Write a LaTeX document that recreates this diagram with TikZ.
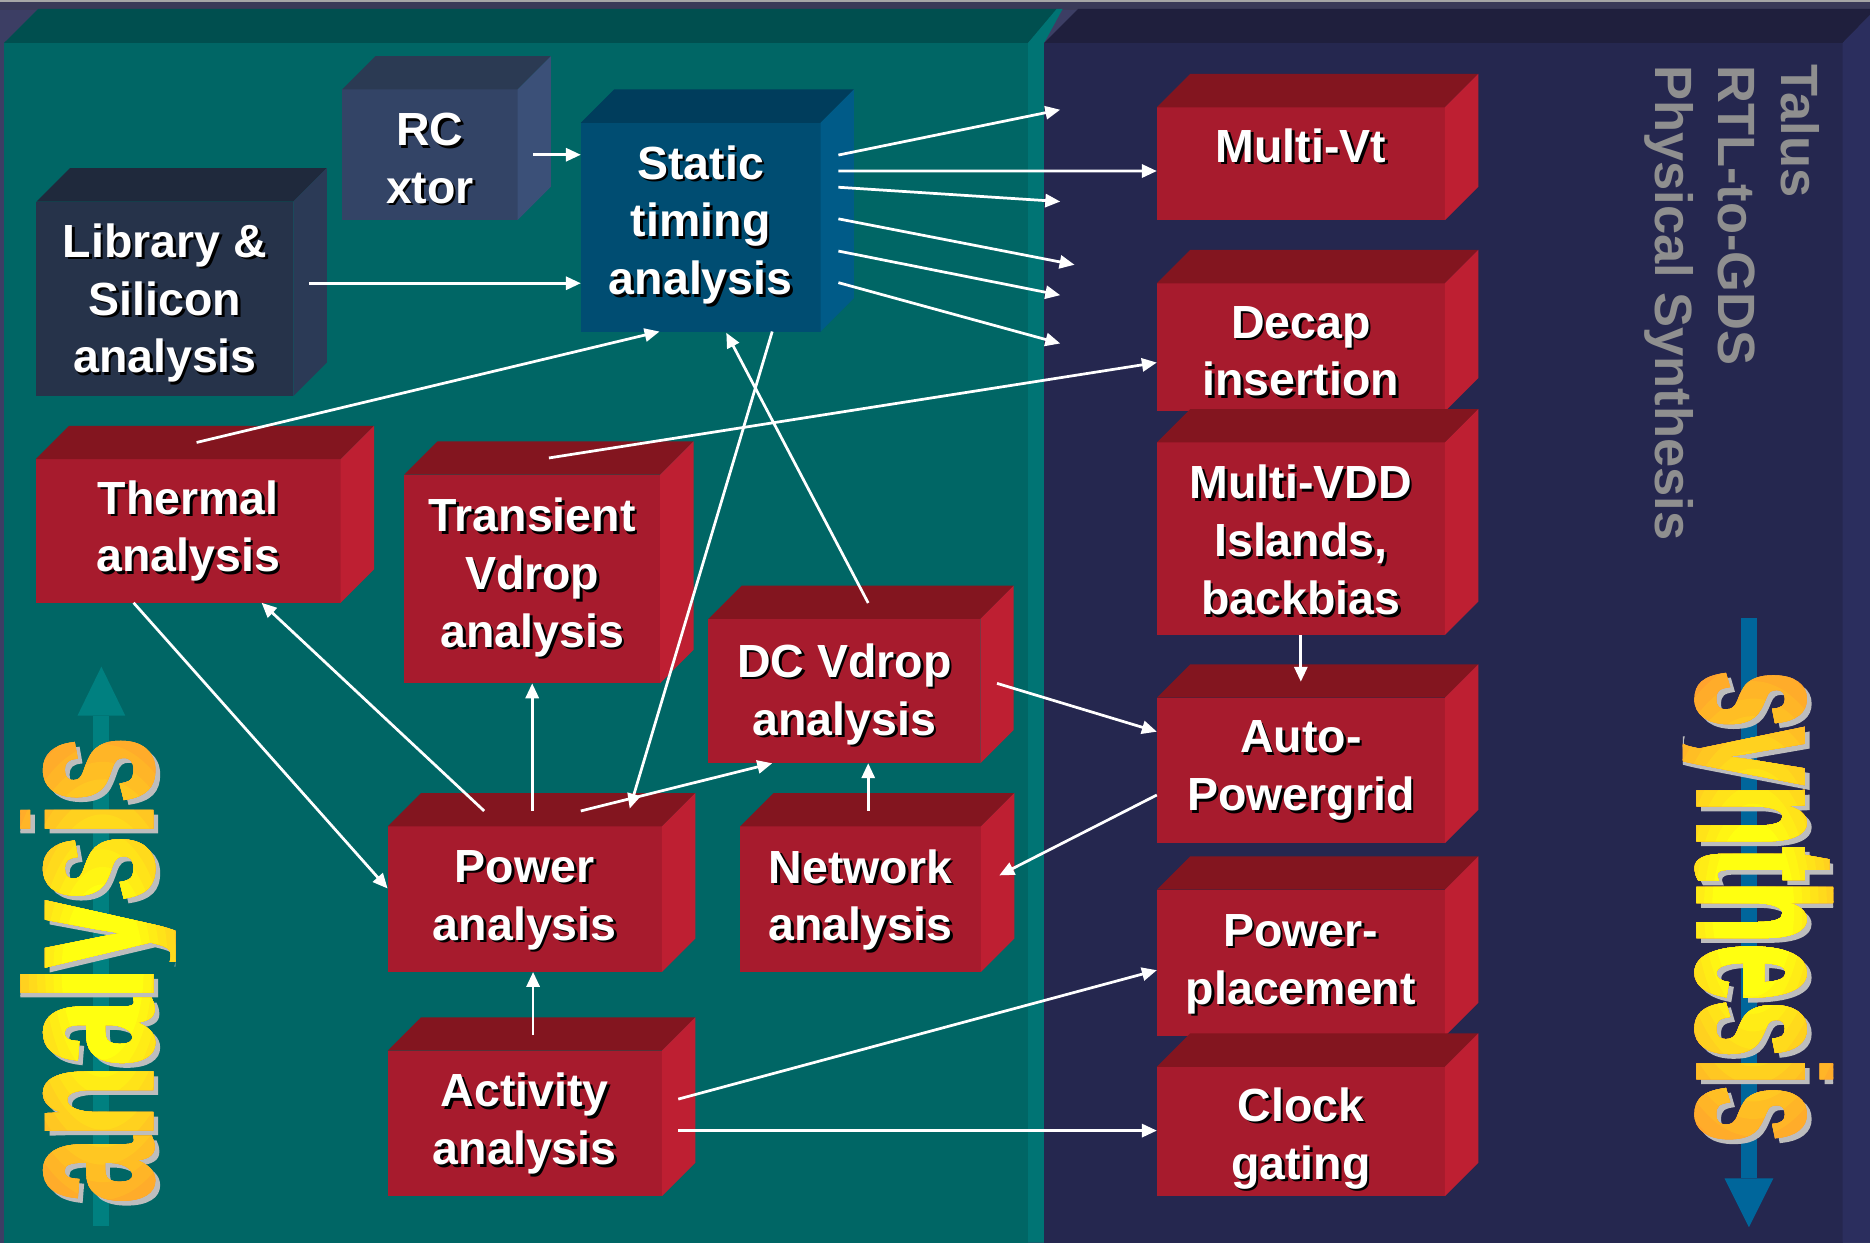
\documentclass[tikz,border=0pt]{standalone}
\usepackage{graphicx}
\usepackage{fontspec}
\setmainfont{Liberation Sans}
\newfontfamily\bigfont{Liberation Sans Bold}[FakeBold=2]
\usetikzlibrary{calc,arrows.meta}
\definecolor{bgC}{HTML}{3C3E64}
\definecolor{stripC}{HTML}{3A3A58}
\definecolor{tealF}{HTML}{006665}
\definecolor{tealT}{HTML}{004F4F}
\definecolor{tealS}{HTML}{007474}
\definecolor{navyF}{HTML}{25274F}
\definecolor{navyT}{HTML}{1F1F3D}
\definecolor{navyS}{HTML}{2B2E5E}
\definecolor{redF}{HTML}{A71B2D}
\definecolor{redT}{HTML}{83151F}
\definecolor{redS}{HTML}{BE1F32}
\definecolor{libF}{HTML}{26334A}
\definecolor{libT}{HTML}{1F293C}
\definecolor{libS}{HTML}{2B3A56}
\definecolor{rcF}{HTML}{334466}
\definecolor{rcT}{HTML}{2B3A53}
\definecolor{rcS}{HTML}{3B5078}
\definecolor{staF}{HTML}{004D72}
\definecolor{staT}{HTML}{003D5C}
\definecolor{staS}{HTML}{005B88}
\definecolor{arrTeal}{HTML}{008080}
\definecolor{arrBlue}{HTML}{00669B}
\definecolor{talusC}{HTML}{8F8F8F}
\definecolor{shGray}{HTML}{BDBDBD}
\definecolor{orangeC}{HTML}{FF9A30}
\definecolor{yellowC}{HTML}{FFFF10}
\newcommand\anaword{\bigfont\fontsize{100}{100}\selectfont\scalebox{0.99}[1.66]{analysis}}
\newcommand\synword{\bigfont\fontsize{100}{100}\selectfont\scalebox{0.858}[1.66]{synthesis}}
\newcommand\cube[7]{%
  \node[fill=#5F, minimum width=#3pt, minimum height=#4pt, inner sep=0pt, outer sep=0pt] (#1) at (#2) {};
  \fill[#5T] (#1.north west) -- ++(28,-28) -- ($(#1.north east)+(28,-28)$) -- (#1.north east) -- cycle;
  \fill[#5S] (#1.north east) -- ++(28,-28) -- ($(#1.south east)+(28,-28)$) -- (#1.south east) -- cycle;
  \node[boxtxtsh] (#1-sh) at ($(#1.center)+(2.2,#7+2.2)$) {#6};
  \node[boxtxt] (#1-tx) at ($(#1.center)+(0,#7)$) {#6};
}
\begin{document}
\begin{tikzpicture}[x=1pt,y=-1pt,
  boxtxt/.style={text=white, align=center, inner sep=0pt, font=\fontsize{39}{48.5}\selectfont\bfseries},
  boxtxtsh/.style={boxtxt, text=black},
  arr/.style={draw=white, line width=2.3pt, -{Triangle[length=12.5pt,width=11pt]}},
  talus/.style={rotate=-90, anchor=base west, inner sep=0pt, text=talusC, font=\fontsize{44}{53}\selectfont\bfseries},
  anast/.style={rotate=90, anchor=base west, inner sep=0pt},
  synst/.style={rotate=-90, anchor=base west, inner sep=0pt}]
\useasboundingbox (0,0) rectangle (1568,1042);
% background and panels
\fill[bgC] (0,0) rectangle (1568,1042);
\fill[stripC] (0,0) rectangle (1568,8);
\draw[line width=1.5pt, color=gray!70] (0,0.75) -- (1568,0.75);
\fill[tealT] (3.4,36) -- (32,7.5) -- (890,7.5) -- (862,36) -- cycle;
\fill[tealF] (3.4,36) rectangle (862,1042);
\fill[tealS] (862,1042) -- (862,36) -- (886,7.5) -- (891,7.5) -- (875.5,36) -- (875.5,1042) -- cycle;
\fill[navyT] (875.5,36) -- (904,7.5) -- (1573,7.5) -- (1545,36) -- cycle;
\fill[navyF] (875.5,36) rectangle (1545,1042);
\fill[navyS] (1545,36) -- (1573,7.5) -- (1573,1042) -- (1545,1042) -- cycle;
% teal arrow behind "analysis"
\fill[arrTeal] (78,600) rectangle (91,1028);
\fill[arrTeal] (65,600) -- (105,600) -- (85,559) -- cycle;
% blue arrow behind "synthesis"
\fill[arrBlue] (1460,518) rectangle (1473,988);
\fill[arrBlue] (1446,988) -- (1487,988) -- (1466.5,1029) -- cycle;
% analysis word
\begin{scope}
  \clip (17,540) rectangle (147,1040);
  \node[anast, text=shGray] (anaSh) at (131,1013) {\anaword};
  \node[anast, text=orangeC] (anaBase) at (127,1009) {\anaword};
  \foreach \i in {1,...,15}{
    \pgfmathtruncatemacro\p{min(100,\i*100/11)}
    \begin{scope}
      \clip (86,815) ellipse ({110*(1-\i/16)} and {235*(1-\i/16)});
      \node[anast, text=yellowC!\p!orangeC] (ana\i) at (127,1009) {\anaword};
    \end{scope}
  }
\end{scope}
% synthesis word
\begin{scope}
  \clip (1411,520) rectangle (1537,1000);
  \node[synst, text=shGray] (synSh) at (1428,566) {\synword};
  \node[synst, text=orangeC] (synBase) at (1424,562) {\synword};
  \foreach \i in {1,...,15}{
    \pgfmathtruncatemacro\p{min(100,\i*100/11)}
    \begin{scope}
      \clip (1470,762) ellipse ({110*(1-\i/16)} and {235*(1-\i/16)});
      \node[synst, text=yellowC!\p!orangeC] (syn\i) at (1424,562) {\synword};
    \end{scope}
  }
\end{scope}
% Talus text
\node[talus] (tal1) at (1494,54) {Talus};
\node[talus] (tal2) at (1440.6,54.5) {RTL-to-GDS};
\node[talus] (tal3) at (1388,54.5) {Physical Synthesis};
% boxes
\cube{lib}{138.3,250.5}{215.4}{163}{lib}{Library \&\\Silicon\\analysis}{3.6}
\cube{rc}{360.5,129.75}{147}{109.5}{rc}{RC\\xtor}{3}
\cube{sta}{587.5,190.5}{201}{175}{sta}{Static\\timing\\analysis}{-1.9}
\cube{therm}{157.85,445.2}{255.7}{120.4}{red}{Thermal\\analysis}{0}
\cube{trans}{446.25,485.5}{214.5}{175}{red}{Transient\\Vdrop\\analysis}{-1.4}
\cube{dc}{708,579.5}{228}{121}{red}{DC Vdrop\\analysis}{2.5}
\cube{power}{440,754}{230}{122}{red}{Power\\analysis}{0.6}
\cube{net}{721.5,754}{202}{122}{red}{Network\\analysis}{0.6}
\cube{act}{440,942}{230}{122}{red}{Activity\\analysis}{0}
\cube{mvt}{1090.75,137.3}{241.5}{94.6}{red}{Multi-Vt}{-15.3}
\cube{decap}{1090.75,291.25}{241.5}{107.5}{red}{Decap\\insertion}{3.2}
\cube{mvdd}{1090.75,451.75}{241.5}{161.5}{red}{Multi-VDD\\Islands,\\backbias}{1}
\cube{auto}{1090.75,646}{241.5}{122}{red}{Auto-\\Powergrid}{0}
\cube{pp}{1090.75,807.5}{241.5}{123}{red}{Power-\\placement}{0.8}
\cube{clock}{1090.75,948.75}{241.5}{108.5}{red}{Clock\\gating}{5.7}
% free arrow ends
\coordinate (e1) at (889,92);
\coordinate (e2) at (889,169);
\coordinate (e3) at (901,222);
\coordinate (e4) at (889,247.5);
\coordinate (e5) at (889,288);
% connectors
\draw[arr] ($(sta.east)+(15,-60.5)$) -- (e1);
\draw[arr] ($(sta.east)+(15,-47.1)$) -- ($(mvt.west)+(0,6.1)$);
\draw[arr] ($(sta.east)+(15,-33.5)$) -- (e2);
\draw[arr] ($(sta.east)+(15,-7)$) -- (e3);
\draw[arr] ($(sta.east)+(15,20)$) -- (e4);
\draw[arr] ($(sta.east)+(15,46.5)$) -- (e5);
\draw[arr] ($(rc.east)+(13,0)$) -- (sta.west |- rc.east);
\draw[arr] ($(lib.east)+(13,-13)$) coordinate (l0) -- (sta.west |- l0);
\draw[arr] ($(therm.north)+(7,-14)$) -- ($(sta.south)+(-34.5,0)$);
\draw[arr] ($(trans.north)+(14,-14)$) -- ($(decap.west)+(0,12.75)$);
\draw[arr] ($(sta.south)+(60,0)$) -- ($(power.north)+(88,-15)$);
\draw[arr] ($(dc.north)+(20,-13.4)$) -- ($(sta.south)+(21.5,1)$);
\draw[arr] ($(power.north)+(47,-13)$) -- ($(dc.south)+(-60.5,0)$);
\draw[arr] ($(power.north)+(6.25,-13)$) -- (trans.south);
\draw[arr] ($(power.north)+(-34,-13)$) -- ($(therm.south)+(61.5,0)$);
\draw[arr] ($(therm.south)+(-45.85,0)$) -- ($(power.west)+(0,-9)$);
\draw[arr] ($(net.north)+(6.5,-13)$) -- ($(dc.south)+(20,0)$);
\draw[arr] ($(dc.east)+(14,-6.5)$) -- ($(auto.west)+(0,-32.5)$);
\draw[arr] ($(auto.west)+(0,20.6)$) -- ($(net.east)+(15.4,-20)$);
\draw[arr] ($(act.north)+(7,-13)$) -- ($(power.south)+(7,0)$);
\draw[arr] ($(act.east)+(13.7,-20.4)$) -- ($(pp.west)+(0,6)$);
\draw[arr] ($(act.east)+(13.7,6)$) coordinate (a0) -- (clock.west |- a0);
\draw[arr] (mvdd.south) -- ($(auto.north)+(0,-13.4)$);
\end{tikzpicture}
\end{document}
